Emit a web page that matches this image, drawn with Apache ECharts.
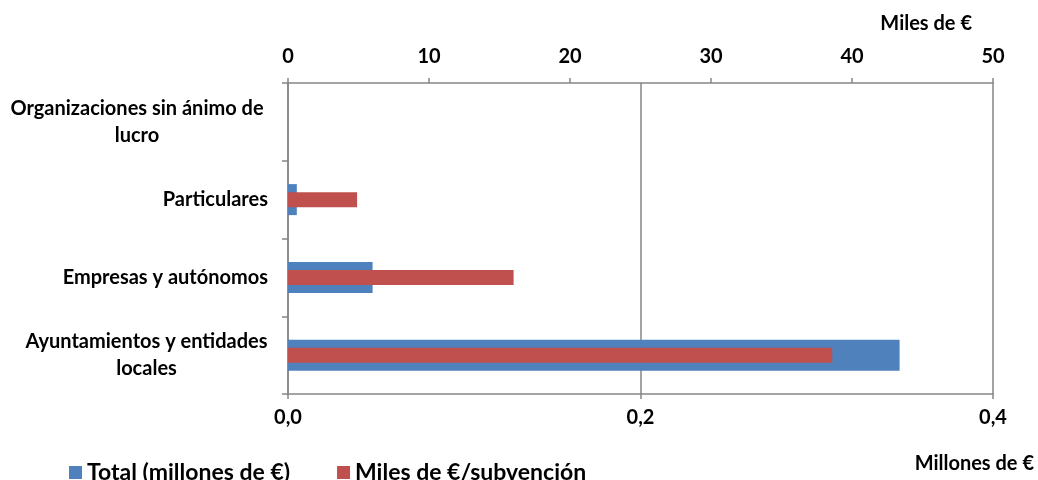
<!DOCTYPE html>
<html>
<head>
<meta charset="utf-8">
<script src="https://cdn.jsdelivr.net/npm/echarts@6/dist/echarts.min.js"></script>
<style>html,body{margin:0;padding:0;background:#fff}#c{width:1038px;height:480px}</style>
</head>
<body>
<div id="c"></div>
<script>
var categories = ['Organizaciones sin ánimo de lucro', 'Particulares', 'Empresas y autónomos', 'Ayuntamientos y entidades locales'];
var totalMillones = [0, 0.005, 0.048, 0.347];
var milesPorSubvencion = [0, 4.9, 16.0, 38.6];
var bottomTicks = ['0,0', '0,2', '0,4'];
var topTicks = ['0', '10', '20', '30', '40', '50'];
var seriesNames = ['Total (millones de €)', 'Miles de €/subvención'];

var FONT = 'Lato';
var GRAY = '#868686';
var chart = echarts.init(document.getElementById('c'), null, {renderer: 'canvas'});
var labelLines = {
  'Organizaciones sin ánimo de lucro': ['a', 'Organizaciones sin ánimo de', 'lucro'],
  'Ayuntamientos y entidades locales': ['b', 'Ayuntamientos y entidades', 'locales']
};
var gridBox = {left: 288, right: 45, top: 83, bottom: 86, containLabel: false};
var labelBase = {fontFamily: FONT, fontWeight: 'bold', fontSize: 20, color: '#000'};
chart.setOption({
  animation: false,
  textStyle: {fontFamily: FONT},
  grid: [Object.assign({}, gridBox), Object.assign({}, gridBox)],
  legend: {
    left: 64, top: 456, icon: 'rect', itemWidth: 13, itemHeight: 13, itemGap: 47,
    textStyle: {fontFamily: FONT, fontWeight: 'bold', fontSize: 23, color: '#000'},
    data: seriesNames
  },
  xAxis: [{
    gridIndex: 0, type: 'value', position: 'bottom', min: 0, max: 0.4, interval: 0.2,
    axisLine: {show: true, lineStyle: {color: GRAY, width: 1.5}},
    axisTick: {show: true, length: 5, lineStyle: {color: GRAY, width: 1.5}},
    splitLine: {show: true, lineStyle: {color: GRAY, width: 1.5}},
    axisLabel: Object.assign({margin: 14,
      formatter: function (v) { return bottomTicks[Math.round(v / 0.2)]; }}, labelBase)
  }, {
    gridIndex: 1, type: 'value', position: 'top', min: 0, max: 50, interval: 10,
    axisLine: {show: true, lineStyle: {color: GRAY, width: 1.5}},
    axisTick: {show: true, length: 5, lineStyle: {color: GRAY, width: 1.5}},
    splitLine: {show: false},
    axisLabel: Object.assign({margin: 16,
      formatter: function (v) { return topTicks[Math.round(v / 10)]; }}, labelBase)
  }],
  yAxis: [{
    gridIndex: 0, type: 'category', inverse: true, data: categories,
    axisLine: {show: true, lineStyle: {color: GRAY, width: 1.5}},
    axisTick: {show: true, length: 6, lineStyle: {color: GRAY, width: 1.5}},
    axisLabel: Object.assign({
      margin: 20, lineHeight: 27,
      formatter: function (v) {
        var l = labelLines[v];
        if (l) return '{' + l[0] + '|' + l[1] + '}\n{' + l[0] + '|' + l[2] + '}';
        return v;
      },
      rich: {
        a: Object.assign({width: 262, align: 'center', lineHeight: 27}, labelBase),
        b: Object.assign({width: 243, align: 'center', lineHeight: 27}, labelBase)
      }
    }, labelBase)
  }, {
    gridIndex: 1, type: 'category', inverse: true, data: categories, show: false
  }],
  series: [{
    name: seriesNames[0], type: 'bar', xAxisIndex: 0, yAxisIndex: 0,
    data: totalMillones, barWidth: 31,
    itemStyle: {color: '#4F81BD'}
  }, {
    name: seriesNames[1], type: 'bar', xAxisIndex: 1, yAxisIndex: 1,
    data: milesPorSubvencion, barWidth: 15,
    itemStyle: {color: '#C0504D'}
  }],
  graphic: [{
    type: 'text', right: 66, top: 14,
    style: {text: 'Miles de €', font: 'bold 20px ' + FONT, fill: '#000'}
  }, {
    type: 'text', right: 4, top: 454,
    style: {text: 'Millones de €', font: 'bold 20px ' + FONT, fill: '#000'}
  }]
});
</script>
</body>
</html>
